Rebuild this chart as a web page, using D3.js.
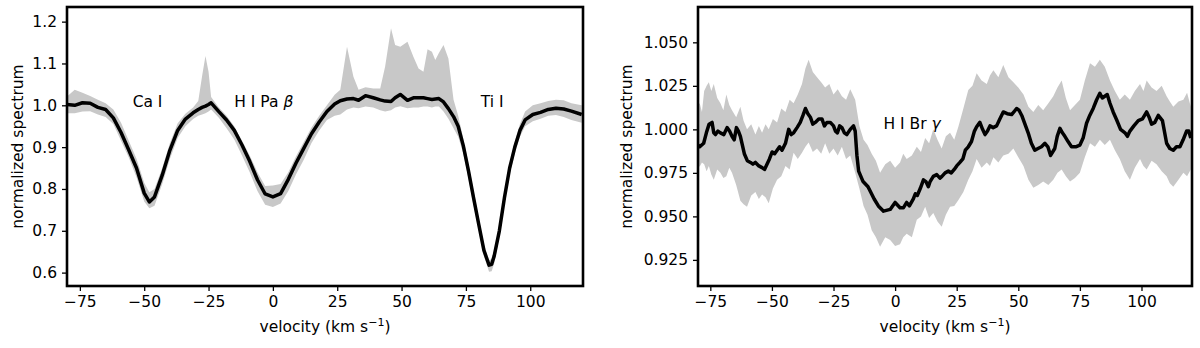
<!DOCTYPE html>
<html>
<head>
<meta charset="utf-8">
<script src="https://cdn.jsdelivr.net/npm/d3@7"></script>
<style>
  body { margin: 0; background: #fff; }
  svg { display: block; }
  text { font-family: "DejaVu Sans", sans-serif; fill: #000; }
</style>
</head>
<body>
<div id="chart"></div>
<script>
// ---- left panel: Ca I, H I Pa beta, Ti I (shared velocity grid) ----
const leftV = [-80, -77, -74, -71, -68, -65, -62, -59, -56, -53, -50, -48, -46, -43, -40, -37, -34, -31, -29, -27.5, -26.2, -25, -24,
  -21, -18, -15, -12, -9, -6, -3, 0, 3, 6, 9, 12, 15, 18, 21, 24, 26.2, 28.8, 31.3, 33.3, 36, 39, 41.7, 43.6, 45.9, 47.5, 49.5,
  52.3, 54.6, 56.6, 58.5, 60.1, 61.8, 63.1, 64.5, 66.3, 68.2, 70.2, 72, 74, 76, 78, 80, 82, 84, 85, 86, 88, 90, 92, 94, 96, 98,
  101, 104, 107, 110, 113, 116, 120];
const leftMean = [1.002, 1.000, 1.006, 1.005, 0.995, 0.990, 0.970, 0.935, 0.893, 0.850, 0.790, 0.769, 0.781, 0.833, 0.893, 0.940,
  0.967, 0.982, 0.990, 0.995, 0.998, 1.002, 1.006, 0.985, 0.965, 0.940, 0.905, 0.866, 0.822, 0.788, 0.781, 0.789, 0.823, 0.862,
  0.897, 0.932, 0.960, 0.985, 1.003, 1.011, 1.015, 1.016, 1.012, 1.023, 1.018, 1.013, 1.010, 1.009, 1.018, 1.026, 1.012, 1.018,
  1.018, 1.018, 1.016, 1.014, 1.015, 1.016, 1.008, 0.992, 0.973, 0.950, 0.903, 0.843, 0.778, 0.715, 0.653, 0.618, 0.620, 0.640,
  0.700, 0.780, 0.850, 0.900, 0.940, 0.965, 0.978, 0.983, 0.990, 0.993, 0.991, 0.986, 0.978];
const leftHi = [1.021, 1.037, 1.030, 1.022, 1.013, 1.005, 0.990, 0.958, 0.915, 0.872, 0.815, 0.792, 0.800, 0.850, 0.910, 0.957,
  0.980, 0.995, 1.010, 1.070, 1.118, 1.080, 1.020, 0.995, 0.975, 0.950, 0.915, 0.880, 0.840, 0.807, 0.808, 0.812, 0.840, 0.878,
  0.912, 0.947, 0.975, 1.000, 1.025, 1.037, 1.140, 1.068, 1.037, 1.043, 1.040, 1.040, 1.092, 1.184, 1.144, 1.140, 1.152, 1.116,
  1.088, 1.080, 1.134, 1.128, 1.108, 1.125, 1.144, 1.112, 1.013, 0.975, 0.920, 0.860, 0.795, 0.730, 0.668, 0.630, 0.632, 0.652,
  0.712, 0.792, 0.862, 0.913, 0.955, 0.985, 1.000, 1.005, 1.010, 1.013, 1.012, 1.005, 1.000];
const leftLo = [0.981, 0.981, 0.985, 0.986, 0.978, 0.972, 0.955, 0.915, 0.875, 0.828, 0.770, 0.754, 0.760, 0.812, 0.872, 0.922,
  0.950, 0.967, 0.975, 0.978, 0.981, 0.985, 0.990, 0.970, 0.945, 0.918, 0.880, 0.840, 0.795, 0.762, 0.757, 0.765, 0.795, 0.835,
  0.870, 0.910, 0.940, 0.965, 0.975, 0.978, 0.990, 0.995, 0.993, 0.997, 0.995, 0.988, 0.985, 0.988, 0.995, 0.998, 0.993, 0.995,
  0.995, 0.997, 0.997, 0.995, 0.997, 0.997, 0.985, 0.968, 0.945, 0.925, 0.885, 0.825, 0.760, 0.700, 0.640, 0.602, 0.603, 0.622,
  0.685, 0.765, 0.835, 0.885, 0.925, 0.950, 0.962, 0.968, 0.975, 0.977, 0.972, 0.965, 0.958];
const leftLabels = [
  { text: "Ca I", v: -54.5, y: 0.997 },
  { text: "H I Pa ", greek: "β", v: -15, y: 0.997 },
  { text: "Ti I", v: 80.8, y: 0.997 },
];

// ---- right panel: H I Br gamma ----
const rightBandV = [-80, -79.3, -78.4, -77.5, -76.5, -75.6, -74.6, -73.6, -72.2, -70.9, -69.7, -68.5, -67.3, -66.2, -64.5, -62.8,
  -61.5, -60.1, -58.4, -56.7, -55.3, -54, -52.6, -51.3, -49.6, -47.9, -46.2, -44.5, -42.8, -41.2, -39.5, -37.8, -36.4, -35.1,
  -33.4, -31.7, -30, -28.4, -26.7, -25, -23.3, -21.6, -19.9, -18.2, -16.2, -14.5, -12.8, -11.2, -9.5, -7.8, -6.1, -4, -2, 0, 2,
  3.3, 4.7, 6.8, 8.8, 10.5, 12.2, 13.8, 15.5, 17.2, 18.9, 20.6, 22.3, 24, 25.7, 27.7, 29.7, 31.4, 33.1, 35.1, 37.2, 38.5, 39.9,
  41.9, 43.9, 46, 48, 50, 52.1, 54.1, 56.1, 58.1, 60.1, 62.2, 64.2, 65.9, 67.6, 69.3, 71, 73, 75, 77, 79.1, 81.1, 83.1, 85.1,
  87.2, 89.2, 91.2, 93.2, 95.3, 97.3, 99.4, 100.8, 102.1, 104.1, 106.1, 108.2, 110.2, 111.5, 112.9, 115, 117, 118.5, 120];
const rightHi = [1.014, 1.015, 1.010, 1.022, 1.025, 1.027, 1.022, 1.026, 1.018, 1.015, 1.011, 1.020, 1.014, 1.011, 1.007, 1.013,
  1.005, 1.000, 1.003, 0.997, 1.002, 0.998, 1.003, 1.000, 1.006, 1.004, 1.012, 1.010, 1.017, 1.015, 1.020, 1.026, 1.035, 1.040,
  1.033, 1.030, 1.027, 1.024, 1.026, 1.020, 1.023, 1.019, 1.017, 1.023, 1.017, 1.002, 0.994, 0.991, 0.986, 0.982, 0.975, 0.980,
  0.982, 0.978, 0.981, 0.986, 0.983, 0.985, 0.990, 0.987, 0.995, 0.992, 1.000, 0.994, 0.989, 0.996, 0.998, 0.994, 1.0016, 1.012,
  1.0226, 1.025, 1.0322, 1.028, 1.026, 1.031, 1.034, 1.030, 1.037, 1.030, 1.027, 1.024, 1.020, 1.013, 1.010, 1.014, 1.011, 1.015,
  1.019, 1.024, 1.028, 1.018, 1.011, 1.014, 1.017, 1.028, 1.038, 1.036, 1.040, 1.036, 1.028, 1.022, 1.017, 1.020, 1.017, 1.022,
  1.026, 1.022, 1.028, 1.024, 1.022, 1.025, 1.019, 1.016, 1.013, 1.016, 1.017, 1.021, 1.013];
const rightLo = [0.979, 0.9786, 0.981, 0.980, 0.976, 0.979, 0.974, 0.971, 0.977, 0.975, 0.972, 0.973, 0.978, 0.975, 0.968, 0.959,
  0.957, 0.9556, 0.962, 0.964, 0.960, 0.9625, 0.961, 0.9575, 0.966, 0.971, 0.973, 0.979, 0.977, 0.9866, 0.983, 0.9866, 0.990,
  0.9924, 0.987, 0.989, 0.986, 0.992, 0.986, 0.989, 0.985, 0.990, 0.983, 0.985, 0.975, 0.966, 0.956, 0.951, 0.942, 0.938, 0.9326,
  0.938, 0.9365, 0.933, 0.934, 0.938, 0.940, 0.938, 0.948, 0.950, 0.9556, 0.949, 0.952, 0.947, 0.944, 0.951, 0.9556, 0.956,
  0.9594, 0.964, 0.971, 0.976, 0.983, 0.978, 0.981, 0.979, 0.984, 0.981, 0.985, 0.986, 0.989, 0.984, 0.979, 0.971, 0.9665, 0.968,
  0.970, 0.968, 0.971, 0.975, 0.977, 0.973, 0.970, 0.972, 0.975, 0.984, 0.992, 0.990, 0.994, 0.991, 0.994, 0.988, 0.983, 0.976,
  0.971, 0.978, 0.983, 0.979, 0.977, 0.982, 0.980, 0.976, 0.973, 0.969, 0.967, 0.971, 0.975, 0.973, 0.977];
const rightLineV = [-80, -79.3, -78.5, -77.7, -76.6, -75.5, -74.3, -73.6, -72.9, -71.9, -70.9, -69.5, -68.2, -67.2, -66.2, -65.3,
  -64.4, -63.6, -62.8, -61.2, -60, -58.7, -57.7, -56.7, -55.3, -54, -53, -52, -51, -49.9, -48.9, -47.9, -46.9, -45.9, -44.5,
  -43.2, -42.2, -41.2, -39.8, -38.5, -37.4, -36.4, -35.4, -34.4, -33.4, -32.4, -31, -29.7, -28.7, -27.7, -26.3, -25, -24.2,
  -23.4, -22.5, -21.6, -20.6, -19.6, -18.2, -16.9, -16.2, -15.5, -14.8, -13, -11, -8.5, -6.8, -4.7, -2, 0, 2, 3.4, 4.7, 5.8,
  7.4, 8.2, 9, 10.2, 11.5, 12.5, 13.5, 14.2, 15.5, 16.9, 18.2, 19, 20.3, 21.6, 22.8, 24, 25, 26.3, 27.5, 28.5, 29.7, 31, 32.2,
  33.1, 34.4, 35.5, 36.5, 37.5, 38.5, 39.8, 41.2, 42.5, 43.9, 45.5, 47.3, 48.2, 49.3, 50.3, 51.4, 52.7, 54, 55.3, 56.7, 58,
  59.4, 60.8, 62, 63.1, 64.8, 65.8, 66.9, 67.9, 68.9, 70.2, 71.6, 73.3, 75, 76.3, 77.7, 79, 80.4, 81.8, 83.1, 84.1, 85.1, 86.1,
  87.2, 88.5, 89.9, 91.5, 93.3, 94.3, 95.3, 96.9, 98.7, 100.4, 102.1, 103.1, 104.1, 105.4, 106.8, 108.5, 110.2, 111.5, 112.9,
  114.2, 115.6, 116.9, 118.3, 119.2, 120];
const rightMean = [0.991, 0.990, 0.991, 0.992, 0.998, 1.003, 1.004, 0.998, 0.997, 0.999, 0.998, 0.997, 1.001, 0.999, 0.996,
  0.994, 1.001, 0.999, 0.996, 0.986, 0.982, 0.981, 0.980, 0.981, 0.979, 0.978, 0.977, 0.980, 0.983, 0.987, 0.986, 0.988, 0.990,
  0.988, 0.992, 1.000, 0.997, 0.998, 1.001, 1.004, 1.008, 1.012, 1.009, 1.007, 1.003, 1.004, 1.006, 1.006, 1.002, 1.004, 1.004,
  1.002, 0.999, 0.998, 1.002, 1.001, 0.998, 0.997, 1.000, 1.002, 0.999, 0.985, 0.976, 0.970, 0.967, 0.960, 0.956, 0.953, 0.954,
  0.958, 0.955, 0.955, 0.958, 0.956, 0.960, 0.963, 0.962, 0.966, 0.971, 0.970, 0.967, 0.970, 0.973, 0.974, 0.972, 0.973, 0.975,
  0.976, 0.975, 0.977, 0.979, 0.981, 0.983, 0.988, 0.990, 0.993, 0.999, 1.0015, 1.004, 1.000, 0.997, 0.999, 1.002, 1.001, 1.002,
  1.006, 1.010, 1.009, 1.0085, 1.010, 1.012, 1.011, 1.008, 1.003, 0.998, 0.992, 0.988, 0.989, 0.990, 0.992, 0.990, 0.985, 0.989,
  0.996, 1.0006, 0.998, 0.996, 0.993, 0.990, 0.990, 0.991, 0.995, 1.0035, 1.008, 1.012, 1.017, 1.0207, 1.018, 1.019, 1.020,
  1.015, 1.010, 1.0055, 1.000, 0.998, 0.996, 0.999, 1.002, 1.005, 1.006, 1.010, 1.007, 1.003, 1.004, 1.008, 1.005, 0.992, 0.989,
  0.988, 0.990, 0.990, 0.994, 0.999, 0.999, 0.995];
const rightLabels = [{ text: "H I Br ", greek: "γ", v: -4.7, y: 1.0 }];

const leftYTicks = [0.6, 0.7, 0.8, 0.9, 1.0, 1.1, 1.2];
const rightYTicks = [0.925, 0.95, 0.975, 1.0, 1.025, 1.05];
const xTicks = [-75, -50, -25, 0, 25, 50, 75, 100];

const W = 1200, H = 348;
const svg = d3.select("#chart").append("svg").attr("width", W).attr("height", H);
const FS = 15.5;

function drawPanel(id, box, yDomain, yTicks, yFmt, band, line, labels, ylabelX) {
  const x = d3.scaleLinear().domain([-80, 120.5]).range([box.l, box.r]);
  const y = d3.scaleLinear().domain(yDomain).range([box.b, box.t]);

  svg.append("clipPath").attr("id", id)
    .append("rect").attr("x", box.l).attr("y", box.t)
    .attr("width", box.r - box.l).attr("height", box.b - box.t);
  const g = svg.append("g").attr("clip-path", `url(#${id})`);

  const area = d3.area()
    .x((d) => x(d.v)).y0((d) => y(d.lo)).y1((d) => y(d.hi));
  g.append("path").datum(band).attr("d", area).attr("fill", "#c8c8c8");

  const ln = d3.line().x((d) => x(d.v)).y((d) => y(d.m));
  g.append("path").datum(line).attr("d", ln)
    .attr("fill", "none").attr("stroke", "#000").attr("stroke-width", 3.5)
    .attr("stroke-linejoin", "round");

  // axes
  const ax = svg.append("g").attr("transform", `translate(0,${box.b})`)
    .call(d3.axisBottom(x).tickValues(xTicks).tickFormat(d3.format("d"))
      .tickSize(5).tickSizeOuter(0).tickPadding(5));
  const ay = svg.append("g").attr("transform", `translate(${box.l},0)`)
    .call(d3.axisLeft(y).tickValues(yTicks).tickFormat(d3.format(yFmt))
      .tickSize(5).tickSizeOuter(0).tickPadding(5));
  [ax, ay].forEach((a) => {
    a.select(".domain").remove();
    a.selectAll(".tick line").attr("stroke", "#000").attr("stroke-width", 1.3);
    a.selectAll(".tick text").attr("font-size", FS).attr("font-family", '"DejaVu Sans", sans-serif');
  });

  svg.append("rect").attr("x", box.l).attr("y", box.t)
    .attr("width", box.r - box.l).attr("height", box.b - box.t)
    .attr("fill", "none").attr("stroke", "#000").attr("stroke-width", 2.6);

  // line labels
  labels.forEach((lb) => {
    const t = svg.append("text").attr("x", x(lb.v)).attr("y", y(lb.y)).attr("font-size", FS);
    t.append("tspan").text(lb.text);
    if (lb.greek) t.append("tspan").attr("font-style", "italic").text(lb.greek);
  });

  // axis titles
  const xl = svg.append("text").attr("x", (box.l + box.r) / 2).attr("y", box.b + 46)
    .attr("text-anchor", "middle").attr("font-size", FS);
  xl.append("tspan").text("velocity (km s");
  xl.append("tspan").attr("dy", -6).attr("font-size", 11).text("−1");
  xl.append("tspan").attr("dy", 6).text(")");

  svg.append("text")
    .attr("transform", `translate(${ylabelX},${(box.t + box.b) / 2}) rotate(-90)`)
    .attr("text-anchor", "middle").attr("font-size", FS)
    .text("normalized spectrum");
}

const leftBand = leftV.map((v, i) => ({ v, lo: leftLo[i], hi: leftHi[i] }));
const leftLine = leftV.map((v, i) => ({ v, m: leftMean[i] }));
const rightBand = rightBandV.map((v, i) => ({ v, lo: rightLo[i], hi: rightHi[i] }));
const rightLine = rightLineV.map((v, i) => ({ v, m: rightMean[i] }));

drawPanel("clipL", { l: 67, r: 583, t: 7, b: 286 }, [0.568, 1.235], leftYTicks, ".1f",
  leftBand, leftLine, leftLabels, 23);
drawPanel("clipR", { l: 698, r: 1192, t: 7, b: 286 }, [0.910, 1.0703], rightYTicks, ".3f",
  rightBand, rightLine, rightLabels, 632);
</script>
</body>
</html>
